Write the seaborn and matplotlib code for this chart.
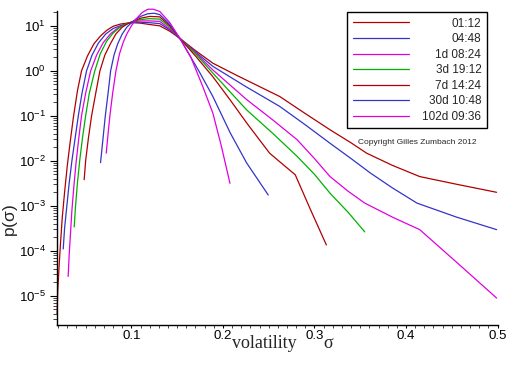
import numpy as np
import pandas as pd
import seaborn as sns
import matplotlib
matplotlib.use("Agg")
import matplotlib.pyplot as plt
from matplotlib.ticker import FixedLocator, MultipleLocator, LogLocator, NullFormatter, FormatStrFormatter

# time scales shown in the legend, and the line colour of each
scales = ["01:12", "04:48", "1d 08:24", "3d 19:12", "7d 14:24", "30d 10:48", "102d 09:36"]
colors = ["#b00000", "#3434c8", "#e000e0", "#00b000", "#b00000", "#3434c8", "#e000e0"]

# volatility sigma and log10 p(sigma) for each curve
sig_0112 = [0.0188, 0.0195, 0.021, 0.0225, 0.0245, 0.027, 0.030, 0.033, 0.0365, 0.041, 0.0455, 0.052,
            0.059, 0.066, 0.073, 0.080, 0.088, 0.095, 0.102, 0.110, 0.120, 0.131, 0.142, 0.153, 0.170,
            0.189, 0.215, 0.240, 0.262, 0.290, 0.317, 0.340, 0.357, 0.385, 0.415, 0.455, 0.499]
logp_0112 = [-5.40, -4.90, -4.35, -3.85, -3.25, -2.70, -2.10, -1.60, -1.05, -0.45, 0.00, 0.33,
             0.60, 0.77, 0.90, 0.99, 1.04, 1.06, 1.07, 1.06, 1.03, 1.00, 0.88, 0.72, 0.45,
             0.17, -0.10, -0.35, -0.57, -0.95, -1.31, -1.60, -1.83, -2.10, -2.35, -2.52, -2.70]

sig_0448 = [0.0255, 0.027, 0.0295, 0.032, 0.035, 0.0385, 0.042, 0.046, 0.051, 0.057, 0.064, 0.072,
            0.080, 0.0875, 0.095, 0.102, 0.110, 0.120, 0.131, 0.142, 0.153, 0.170, 0.189, 0.225,
            0.262, 0.290, 0.317, 0.340, 0.361, 0.385, 0.412, 0.455, 0.499]
logp_0448 = [-3.96, -3.50, -3.00, -2.50, -2.00, -1.50, -1.00, -0.50, 0.00, 0.35, 0.62, 0.82,
             0.94, 1.00, 1.05, 1.08, 1.08, 1.07, 1.05, 0.91, 0.72, 0.42, 0.10, -0.35,
             -0.79, -1.20, -1.61, -1.95, -2.27, -2.60, -2.94, -3.25, -3.53]

sig_1d = [0.0309, 0.032, 0.0335, 0.035, 0.037, 0.0395, 0.0425, 0.0455, 0.050, 0.0555, 0.062, 0.069,
          0.077, 0.085, 0.091, 0.097, 0.102, 0.110, 0.120, 0.131, 0.142, 0.153, 0.170, 0.189,
          0.226, 0.255, 0.281, 0.300, 0.317, 0.337, 0.355, 0.385, 0.415, 0.455, 0.499]
logp_1d = [-4.57, -4.10, -3.60, -3.10, -2.60, -2.05, -1.50, -1.00, -0.50, 0.00, 0.35, 0.62,
           0.82, 0.95, 1.01, 1.06, 1.09, 1.11, 1.11, 1.10, 0.93, 0.72, 0.40, 0.02,
           -0.64, -1.10, -1.53, -1.95, -2.35, -2.68, -2.94, -3.25, -3.53, -4.25, -5.05]

sig_3d = [0.0375, 0.039, 0.041, 0.0435, 0.0465, 0.050, 0.054, 0.060, 0.066, 0.073, 0.080, 0.087,
          0.094, 0.102, 0.110, 0.120, 0.131, 0.142, 0.153, 0.170, 0.189, 0.226, 0.255, 0.281,
          0.300, 0.317, 0.337, 0.355]
logp_3d = [-3.47, -3.00, -2.50, -2.00, -1.50, -1.00, -0.50, 0.00, 0.38, 0.66, 0.84, 0.96,
           1.04, 1.10, 1.14, 1.16, 1.15, 0.97, 0.72, 0.38, -0.05, -0.87, -1.40, -1.90,
           -2.30, -2.72, -3.15, -3.58]

sig_7d = [0.0484, 0.050, 0.053, 0.0565, 0.061, 0.0656, 0.071, 0.077, 0.083, 0.090, 0.096, 0.102,
          0.110, 0.120, 0.131, 0.142, 0.153, 0.170, 0.189, 0.208, 0.226, 0.251, 0.262, 0.279,
          0.296, 0.313]
logp_7d = [-2.42, -2.00, -1.50, -1.00, -0.50, 0.00, 0.35, 0.60, 0.82, 0.97, 1.05, 1.10,
           1.17, 1.21, 1.20, 1.00, 0.72, 0.33, -0.13, -0.65, -1.16, -1.83, -2.02, -2.31,
           -3.10, -3.87]

sig_30d = [0.0663, 0.069, 0.0715, 0.0745, 0.0773, 0.081, 0.085, 0.090, 0.095, 0.100, 0.105, 0.110,
           0.118, 0.125, 0.131, 0.142, 0.153, 0.165, 0.175, 0.189, 0.208, 0.226, 0.2495]
logp_30d = [-2.04, -1.50, -1.00, -0.50, 0.00, 0.35, 0.60, 0.82, 0.97, 1.07, 1.15, 1.21,
            1.27, 1.28, 1.25, 1.03, 0.72, 0.30, -0.05, -0.57, -1.38, -2.05, -2.76]

sig_102d = [0.0725, 0.0745, 0.0765, 0.0795, 0.0831, 0.087, 0.091, 0.095, 0.100, 0.105, 0.112, 0.118,
            0.124, 0.131, 0.142, 0.153, 0.165, 0.178, 0.189, 0.198, 0.2077]
logp_102d = [-1.83, -1.40, -1.00, -0.50, 0.00, 0.38, 0.63, 0.82, 1.00, 1.15, 1.30, 1.37,
             1.37, 1.32, 1.07, 0.72, 0.30, -0.35, -0.94, -1.65, -2.50]

x_ticks = [0.1, 0.2, 0.3, 0.4, 0.5]
y_ticks = [1e-5, 1e-4, 1e-3, 1e-2, 1e-1, 1e0, 1e1]

curves = [(sig_0112, logp_0112), (sig_0448, logp_0448), (sig_1d, logp_1d), (sig_3d, logp_3d),
          (sig_7d, logp_7d), (sig_30d, logp_30d), (sig_102d, logp_102d)]

frames = []
for name, (s, lp) in zip(scales, curves):
    frames.append(pd.DataFrame({"sigma": s, "p": np.power(10.0, lp), "scale": name}))
df = pd.concat(frames, ignore_index=True)

sns.set_style("ticks")
plt.rcParams["font.family"] = ["Liberation Sans", "DejaVu Sans"]
plt.rcParams["mathtext.fontset"] = "custom"
plt.rcParams["mathtext.rm"] = "Liberation Sans"
plt.rcParams["mathtext.it"] = "Liberation Sans:italic"
plt.rcParams["mathtext.default"] = "regular"

fig = plt.figure(figsize=(5.12, 3.66), dpi=100)
ax = fig.add_axes([0.1113, 0.1120, 0.8613, 0.8579])

sns.lineplot(data=df, x="sigma", y="p", hue="scale", hue_order=scales,
             palette=dict(zip(scales, colors)), sort=False, estimator=None,
             lw=0.9, legend=False, ax=ax)
for line in ax.get_lines():
    line.set_clip_on(False)

ax.set_yscale("log")
ax.set_xlim(0.0187, 0.5005)
ax.set_ylim(10 ** -5.65, 10 ** 1.33)

ax.xaxis.set_major_locator(FixedLocator(x_ticks))
ax.xaxis.set_major_formatter(FormatStrFormatter("%.1f"))
ax.xaxis.set_minor_locator(MultipleLocator(0.01))
ax.yaxis.set_major_locator(FixedLocator(y_ticks))
ax.yaxis.set_minor_locator(LogLocator(base=10, subs=np.arange(2, 10), numticks=15))
ax.yaxis.set_minor_formatter(NullFormatter())

ax.tick_params(which="major", direction="out", width=0.8, labelsize=9.5, colors="black")
ax.tick_params(axis="x", which="major", length=2.5, pad=1)
ax.tick_params(axis="x", which="minor", length=2.5, width=0.6)
ax.tick_params(axis="y", which="major", length=5, pad=3)
ax.tick_params(axis="y", which="minor", length=3, width=0.6)
for side in ["top", "right"]:
    ax.spines[side].set_visible(False)
for side in ["left", "bottom"]:
    ax.spines[side].set_linewidth(1.0)
    ax.spines[side].set_color("black")

# axis titles: the words sit between the 0.2 and 0.3 tick labels, sigma just right of 0.3
ax.set_xlabel("volatility", family="Liberation Serif", fontsize=13, ha="left")
ax.xaxis.set_label_coords(0.397, -0.031)
ax.text(0.604, -0.031, "σ", transform=ax.transAxes, family="Liberation Serif",
        fontsize=13, ha="left", va="top")
ax.set_ylabel(r"$p(\sigma)$", fontsize=12.5, math_fontfamily="stix")
ax.yaxis.set_label_coords(-0.084, 0.334)

ax.text(0.683, 0.58, "Copyright Gilles Zumbach 2012", transform=ax.transAxes,
        fontsize=6, va="center", ha="left")

handles = ax.get_lines()[:len(scales)]
leg = ax.legend(handles, scales, loc="upper left", bbox_to_anchor=(0.6783, 0.9664),
                bbox_transform=fig.transFigure, borderaxespad=0, fancybox=False,
                framealpha=1, edgecolor="black", fontsize=8.5, handlelength=4.8,
                handletextpad=1.1, labelspacing=0.3, borderpad=0.45)
leg.get_frame().set_linewidth(1.0)

# right-align the legend labels like the original
fig.canvas.draw()
renderer = fig.canvas.get_renderer()
boxes = [t.get_window_extent(renderer) for t in leg.get_texts()]
right = max(b.x1 for b in boxes)
for t, b in zip(leg.get_texts(), boxes):
    fig.text(right / fig.bbox.width, b.y0 / fig.bbox.height, t.get_text(),
             ha="right", va="bottom", fontsize=8.5)
    t.set_visible(False)

fig.savefig("out.png", dpi=100)
